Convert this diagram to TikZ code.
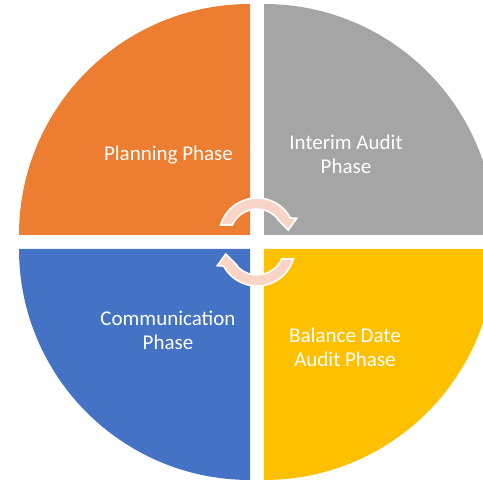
\documentclass[tikz,border=0pt]{standalone}
\usepackage{fontspec}
\setmainfont{Carlito}
\definecolor{qorange}{HTML}{ED7D31}
\definecolor{qgray}{HTML}{A5A5A5}
\definecolor{qblue}{HTML}{4472C4}
\definecolor{qyellow}{HTML}{FFC000}
\definecolor{arrowfill}{RGB}{248,213,198}
\begin{document}
\begin{tikzpicture}[x=1pt,y=1pt,
  phase/.style={text=white,align=center,font=\fontsize{21}{24}\selectfont,inner sep=0pt},
  cyclearrow/.style={fill=arrowfill,draw=white,line width=1.6pt,line join=miter}]
\clip (0,0) rectangle (483,482);
\fill[white] (0,0) rectangle (483,482);
% four quarter discs around a cross-shaped gap
\fill[qorange] (250,247) -- (250,478) arc[start angle=90,end angle=180,radius=231] -- cycle;
\fill[qgray]   (264,247) -- (495,247) arc[start angle=0,end angle=90,radius=231] -- cycle;
\fill[qblue]   (250,233) -- (19,233) arc[start angle=180,end angle=270,radius=231] -- cycle;
\fill[qyellow] (264,233) -- (264,2) arc[start angle=270,end angle=360,radius=231] -- cycle;
% phase labels
\node[phase] (plan) at (168.5,327) {Planning Phase};
\node[phase] (interim) at (346,328) {Interim Audit\\Phase};
\node[phase] (comm) at (168,151.5) {Communication\\Phase};
\node[phase] (balance) at (345,134.5) {Balance Date\\Audit Phase};
% two curved arrows forming the cycle in the centre
\newcommand{\cyclearc}{%
  (220.6,257) arc[start angle=163.2,end angle=28.3,radius=38]
  -- (296.7,263.7) -- (288.3,252) -- (278.3,262)
  -- (278.7,262) arc[start angle=36.4,end angle=156,radius=27] -- cycle}
\path[cyclearrow] \cyclearc;
\begin{scope}[rotate around={180:(257,240)}]
\path[cyclearrow] \cyclearc;
\end{scope}
\end{tikzpicture}
\end{document}
